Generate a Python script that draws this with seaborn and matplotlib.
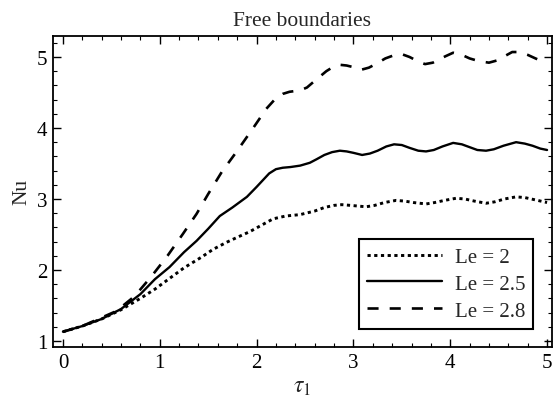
import numpy as np
import pandas as pd
import matplotlib
matplotlib.use("Agg")
import matplotlib.pyplot as plt
from matplotlib.ticker import MultipleLocator
import seaborn as sns

# ---- data ----
tau_le2 = [0, 0.2, 0.4, 0.6, 0.8, 0.95, 1.1, 1.25, 1.43, 1.55, 1.69, 1.8, 1.93, 2.05, 2.17,
           2.3, 2.45, 2.6, 2.7, 2.8, 2.88, 2.97, 3.05, 3.13, 3.22, 3.32, 3.44, 3.53, 3.62,
           3.75, 3.84, 3.94, 4.06, 4.15, 4.25, 4.37, 4.46, 4.56, 4.68, 4.77, 4.87, 5.0]
nu_le2 = [1.13, 1.21, 1.31, 1.44, 1.60, 1.73, 1.88, 2.03, 2.18, 2.29, 2.39, 2.46, 2.54, 2.63, 2.72,
          2.76, 2.78, 2.83, 2.88, 2.91, 2.92, 2.91, 2.90, 2.89, 2.91, 2.95, 2.98, 2.97, 2.95,
          2.93, 2.95, 2.98, 3.01, 3.00, 2.97, 2.94, 2.96, 3.00, 3.03, 3.02, 2.99, 2.95]

tau_le25 = [0, 0.2, 0.4, 0.6, 0.8, 0.95, 1.1, 1.25, 1.38, 1.5, 1.62, 1.75, 1.9, 2.0, 2.13,
            2.2, 2.27, 2.35, 2.45, 2.55, 2.62, 2.7, 2.78, 2.86, 2.93, 3.0, 3.09, 3.17, 3.25,
            3.34, 3.42, 3.5, 3.58, 3.67, 3.75, 3.83, 3.92, 4.03, 4.12, 4.2, 4.28, 4.37, 4.45,
            4.55, 4.68, 4.77, 4.85, 4.93, 5.0]
nu_le25 = [1.13, 1.21, 1.31, 1.45, 1.66, 1.87, 2.04, 2.25, 2.41, 2.58, 2.76, 2.88, 3.03, 3.17, 3.36,
           3.42, 3.44, 3.45, 3.47, 3.51, 3.56, 3.62, 3.66, 3.68, 3.67, 3.65, 3.62, 3.64, 3.68,
           3.74, 3.77, 3.76, 3.72, 3.68, 3.67, 3.69, 3.74, 3.79, 3.77, 3.73, 3.69, 3.68, 3.70,
           3.75, 3.80, 3.78, 3.75, 3.71, 3.69]

tau_le28 = [0, 0.2, 0.35, 0.55, 0.74, 0.92, 1.08, 1.24, 1.38, 1.5, 1.64, 1.79, 1.96, 2.10,
            2.2, 2.27, 2.34, 2.45, 2.52, 2.58, 2.65, 2.72, 2.79, 2.86, 2.93, 2.99, 3.08, 3.16,
            3.23, 3.33, 3.43, 3.5, 3.58, 3.68, 3.74, 3.82, 3.95, 4.03, 4.12, 4.2, 4.3, 4.4,
            4.48, 4.56, 4.64, 4.71, 4.8, 4.88, 5.0]
nu_le28 = [1.13, 1.21, 1.30, 1.42, 1.63, 1.92, 2.20, 2.51, 2.79, 3.07, 3.38, 3.66, 3.99, 4.27,
           4.42, 4.48, 4.51, 4.53, 4.57, 4.64, 4.72, 4.80, 4.86, 4.89, 4.88, 4.86, 4.82, 4.85,
           4.90, 4.98, 5.03, 5.04, 5.00, 4.93, 4.90, 4.92, 5.01, 5.06, 5.03, 4.98, 4.94, 4.92,
           4.95, 5.01, 5.07, 5.07, 5.03, 4.98, 4.91]

labels = ["Le = 2", "Le = 2.5", "Le = 2.8"]

# ---- styling ----
sns.set_theme(style="ticks")
plt.rcParams["font.family"] = ["Liberation Serif", "DejaVu Serif"]
plt.rcParams["mathtext.fontset"] = "stix"

fig = plt.figure(figsize=(5.53, 4.10), dpi=100)
ax = fig.add_axes([0.0958, 0.1512, 0.9022, 0.7593])

series = [
    (tau_le2, nu_le2, labels[0], (0, (1.1, 1.2)), 2.1),
    (tau_le25, nu_le25, labels[1], "-", 1.7),
    (tau_le28, nu_le28, labels[2], (0, (4.2, 4.2)), 1.9),
]
for t, n, lab, ls, lw in series:
    df = pd.DataFrame({"tau": t, "Nu": n})
    sns.lineplot(data=df, x="tau", y="Nu", ax=ax, color="black", linestyle=ls,
                 linewidth=lw, label=lab, sort=False, estimator=None)

ax.set_xlim(-0.103, 5.05)
ax.set_ylim(0.915, 5.30)
ax.xaxis.set_major_locator(MultipleLocator(1))
ax.xaxis.set_minor_locator(MultipleLocator(0.2))
ax.yaxis.set_major_locator(MultipleLocator(1))
ax.yaxis.set_minor_locator(MultipleLocator(0.2))
ax.tick_params(which="both", direction="in", top=True, right=True, colors="black",
               labelsize=15, pad=4)
ax.tick_params(which="major", length=6, width=1.0)
ax.tick_params(which="minor", length=3, width=0.8)
for s in ax.spines.values():
    s.set_color("black")
    s.set_linewidth(1.3)

ax.set_title("Free boundaries", fontsize=15.5, pad=8)
ax.set_xlabel(r"$\tau_1$", fontsize=17, labelpad=3)
ax.set_ylabel("Nu", fontsize=15.5, labelpad=4)

leg = ax.legend(loc="lower right", bbox_to_anchor=(0.963, 0.058), fontsize=15,
                frameon=True, fancybox=False, handlelength=3.6, handletextpad=0.6,
                labelspacing=0.35, borderpad=0.4, borderaxespad=0)
leg.get_frame().set_edgecolor("black")
leg.get_frame().set_linewidth(1.5)
leg.get_frame().set_alpha(1)

fig.savefig("out.png", dpi=100)
